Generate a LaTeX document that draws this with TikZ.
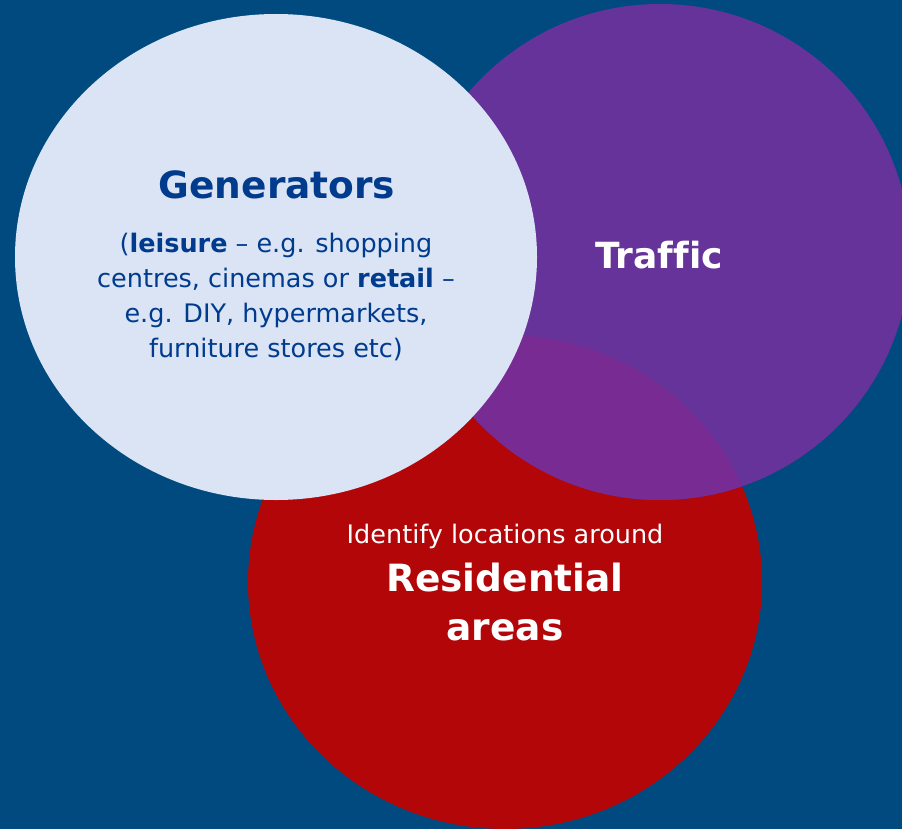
\documentclass[tikz,border=0pt]{standalone}
\usepackage{fontspec}
\setmainfont{DejaVu Sans}[Ligatures={TeX,NoCommon}]

\definecolor{bgblue}{RGB}{0,74,127}
\definecolor{genlight}{RGB}{218,228,244}
\definecolor{traffic}{RGB}{102,51,154}
\definecolor{resred}{RGB}{179,6,9}
\definecolor{overlap}{RGB}{119,43,147}
\definecolor{gentext}{RGB}{0,59,142}

\tikzset{
  label/.style={anchor=base, inner sep=0pt, outer sep=0pt},
  headline/.style={label, font=\fontsize{37.5}{40}\selectfont\bfseries},
  bodyline/.style={label, font=\fontsize{25.5}{30}\selectfont},
}

\begin{document}
\begin{tikzpicture}[x=1pt, y=-1pt]
  % canvas
  \fill[bgblue] (0,0) rectangle (902,829);
  \useasboundingbox (0,0) rectangle (902,829);

  % residential areas and traffic circles
  \fill[resred] (505,582) ellipse [x radius=257pt, y radius=247pt];
  \fill[traffic] (660,252) ellipse [x radius=250pt, y radius=248pt];
  \begin{scope}
    \clip (505,582) ellipse [x radius=257pt, y radius=247pt];
    \fill[overlap] (660,252) ellipse [x radius=250pt, y radius=248pt];
  \end{scope}

  % generators circle, on top
  \fill[genlight] (276,257) ellipse [x radius=261pt, y radius=243pt];

  % generators text
  \node[headline, text=gentext] (gentitle) at (277,199) {Generators};
  \node[bodyline, text=gentext] (genA) at (276,252) {(\textbf{leisure} – e.g. shopping};
  \node[bodyline, text=gentext] (genB) at (276,287) {centres, cinemas or \textbf{retail} –};
  \node[bodyline, text=gentext] (genC) at (276,322) {e.g. DIY, hypermarkets,};
  \node[bodyline, text=gentext] (genD) at (276,357) {furniture stores etc)};

  % traffic text
  \node[headline, text=white, font=\fontsize{36}{40}\selectfont\bfseries] (traffictitle) at (659,268) {Traffic};

  % residential text
  \node[bodyline, text=white] (resintro) at (505,543) {Identify locations around};
  \node[headline, text=white] (resA) at (505,591) {Residential};
  \node[headline, text=white] (resB) at (505,640) {areas};
\end{tikzpicture}
\end{document}
